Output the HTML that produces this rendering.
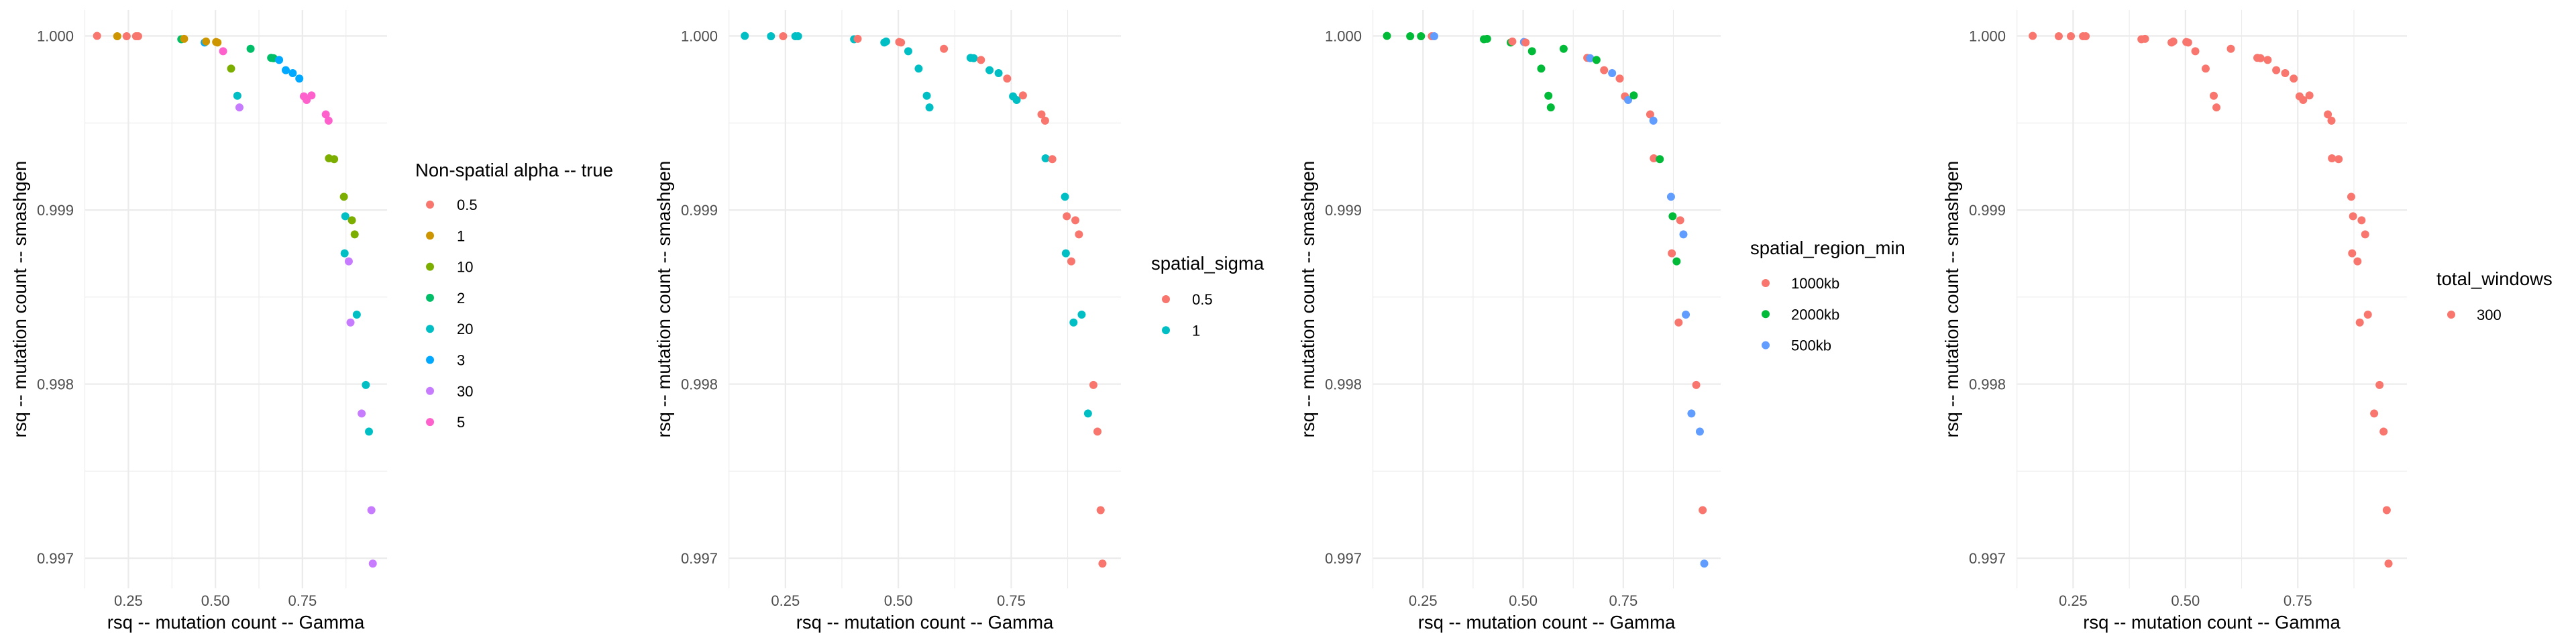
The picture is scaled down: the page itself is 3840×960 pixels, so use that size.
<!DOCTYPE html>
<html><head><meta charset="utf-8">
<style>
html,body{margin:0;padding:0;background:#fff;}
svg{display:block;}
text{font-family:"Liberation Sans",Arial,sans-serif;}
</style></head>
<body>
<svg id="chart" width="3840" height="960" viewBox="0 0 3840 960" xmlns="http://www.w3.org/2000/svg"></svg>
<script>
// shared data: x = rsq Gamma, y = rsq smashgen
const gammaRsq = [0.160,0.218,0.245,0.272,0.278,0.402,0.410,0.469,0.473,0.502,0.506,0.522,0.545,0.563,0.569,0.601,0.660,0.667,0.683,0.702,0.722,0.741,0.754,0.762,0.776,0.817,0.825,0.826,0.841,0.869,0.873,0.892,0.900,0.871,0.883,0.906,0.888,0.932,0.920,0.941,0.948,0.952];
const smashRsq = [1.000000,0.999998,0.999998,0.999998,0.999998,0.999981,0.999983,0.999962,0.999968,0.999965,0.999962,0.999912,0.999812,0.999656,0.999589,0.999926,0.999874,0.999872,0.999862,0.999803,0.999786,0.999755,0.999653,0.999632,0.999658,0.999549,0.999513,0.999297,0.999292,0.999076,0.998964,0.998941,0.998860,0.998751,0.998705,0.998399,0.998354,0.997995,0.997831,0.997727,0.997276,0.996969];
const alphaGroup = ["0.5","1","0.5","0.5","0.5","2","1","3","1","1","1","5","10","20","30","2","2","2","3","3","3","3","5","5","5","5","5","10","10","10","20","10","10","20","30","20","30","20","30","20","30","30"];
const sigmaGroup = ["1","1","0.5","1","1","1","0.5","1","1","0.5","0.5","1","1","1","1","0.5","1","1","0.5","1","1","0.5","1","1","0.5","0.5","0.5","1","0.5","1","0.5","0.5","0.5","1","0.5","1","1","0.5","1","0.5","0.5","0.5"];
const regionGroup = ["2000kb","2000kb","2000kb","1000kb","500kb","2000kb","2000kb","2000kb","1000kb","500kb","1000kb","2000kb","2000kb","2000kb","2000kb","2000kb","1000kb","500kb","2000kb","1000kb","500kb","1000kb","1000kb","500kb","2000kb","1000kb","500kb","1000kb","2000kb","500kb","2000kb","1000kb","500kb","1000kb","2000kb","500kb","1000kb","1000kb","500kb","500kb","1000kb","500kb"];
const windowsGroup = gammaRsq.map(()=> "300");
const xTicks = [0.25,0.50,0.75];
const xTickLabels = ["0.25","0.50","0.75"];
const yTicks = [1.000,0.999,0.998,0.997];
const yTickLabels = ["1.000","0.999","0.998","0.997"];

const alphaLevels = ["0.5","1","10","2","20","3","30","5"];
const alphaColors = ["#F8766D","#CD9600","#7CAE00","#00BE67","#00BFC4","#00A9FF","#C77CFF","#FF61CC"];
const sigmaLevels = ["0.5","1"];
const sigmaColors = ["#F8766D","#00BFC4"];
const regionLevels = ["1000kb","2000kb","500kb"];
const regionColors = ["#F8766D","#00BA38","#619CFF"];
const windowsLevels = ["300"];
const windowsColors = ["#F8766D"];

const NS="http://www.w3.org/2000/svg";
const svg=document.getElementById('chart');
function el(tag,attrs,parent){const e=document.createElementNS(NS,tag);for(const k in attrs)e.setAttribute(k,attrs[k]);(parent||svg).appendChild(e);return e;}

const X0=0.124, X1=0.993, Y0=0.996827, Y1=1.0001484;
const plotTop=15, plotBottom=877;

const panels=[
 {off:0, right:577, groups:alphaGroup, levels:alphaLevels, colors:alphaColors, title:"Non-spatial alpha -- true", tx:619, ty:263, dx:641, lx:681, ry:305, name:"alpha"},
 {off:960, right:711, groups:sigmaGroup, levels:sigmaLevels, colors:sigmaColors, title:"spatial_sigma", tx:756, ty:402, dx:778, lx:817, ry:446, name:"sigma"},
 {off:1920, right:645, groups:regionGroup, levels:regionLevels, colors:regionColors, title:"spatial_region_min", tx:689, ty:379, dx:712, lx:750, ry:422, name:"region"},
 {off:2880, right:708, groups:windowsGroup, levels:windowsLevels, colors:windowsColors, title:"total_windows", tx:752, ty:425, dx:774, lx:812, ry:469, name:"windows"}
];

panels.forEach((p,pi)=>{
  const g=el('g',{transform:`translate(${p.off},0)`});
  
  
  const L=126, R=p.right;
  const sx=v=>L+(v-X0)/(X1-X0)*(R-L);
  const sy=v=>plotBottom-(v-Y0)/(Y1-Y0)*(plotBottom-plotTop);
  [0.125,0.375,0.625,0.875].forEach(v=>{const x=sx(v); if(x>=L&&x<=R){const l=el('line',{x1:x,x2:x,y1:plotTop,y2:plotBottom,stroke:'#EBEBEB','stroke-width':1.1},g);}});
  [0.9995,0.9985,0.9975].forEach(v=>{const y=sy(v);const l=el('line',{x1:L,x2:R,y1:y,y2:y,stroke:'#EBEBEB','stroke-width':1.1},g);});
  xTicks.forEach((v,i)=>{const x=sx(v);
    const l=el('line',{x1:x,x2:x,y1:plotTop,y2:plotBottom,stroke:'#EBEBEB','stroke-width':2.2},g);
    
    const t=el('text',{x:x,y:903,'text-anchor':'middle','font-size':22,fill:'#4D4D4D'},g);t.textContent=xTickLabels[i];
    });
  yTicks.forEach((v,i)=>{const y=sy(v);
    const l=el('line',{x1:L,x2:R,y1:y,y2:y,stroke:'#EBEBEB','stroke-width':2.2},g);
    
    const t=el('text',{x:110,y:y+8,'text-anchor':'end','font-size':22,fill:'#4D4D4D'},g);t.textContent=yTickLabels[i];
    });
  const xt=el('text',{x:(L+R)/2,y:937,'text-anchor':'middle','font-size':27.5,fill:'#000'},g);xt.textContent='rsq -- mutation count -- Gamma';
  
  const yt=el('text',{x:0,y:0,'text-anchor':'middle','font-size':27.5,fill:'#000',transform:`translate(39,${(plotTop+plotBottom)/2}) rotate(-90)`},g);yt.textContent='rsq -- mutation count -- smashgen';
  
  gammaRsq.forEach((xv,i)=>{
    const c=p.colors[p.levels.indexOf(p.groups[i])];
    const pt=el('circle',{cx:sx(xv),cy:sy(smashRsq[i]),r:6,fill:c},g);
    
    
  });
  const lt=el('text',{x:p.tx,y:p.ty,'font-size':27.5,fill:'#000'},g);lt.textContent=p.title;
  
  p.levels.forEach((lv,i)=>{
    const y=p.ry+i*46.3;
    const d=el('circle',{cx:p.dx,cy:y,r:6,fill:p.colors[i]},g);
    
    const t=el('text',{x:p.lx,y:y+8,'font-size':22,fill:'#000'},g);t.textContent=lv;
    
  });
});
</script>
</body></html>
